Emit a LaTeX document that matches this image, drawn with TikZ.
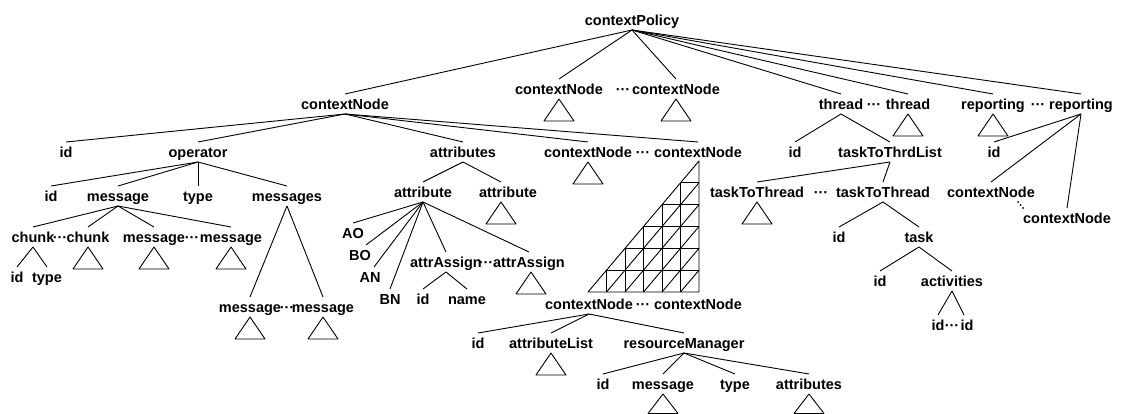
\documentclass[tikz,border=0pt]{standalone}
\usepackage{fontspec}
\setmainfont{Liberation Sans}
\usetikzlibrary{calc}

% lines from a parent to each of its children
\newcommand\kids[2]{\foreach \c in {#2} {\draw[edge] (#1.south) -- (\c.north);}}
% collapsed subtree drawn as a small triangle under a node
\newcommand\foldtri[2][0]{\draw[edge] ($(#2.south)+(#1,0)$) -- ++(-15,22) -- ++(30,0) -- cycle;}

\begin{document}
\begin{tikzpicture}[x=1pt,y=-1pt,
  lbl/.style={font=\fontsize{14.5}{17}\selectfont\bfseries, text height=10.4pt,
              text depth=0pt, inner xsep=1pt, inner ysep=4.6pt},
  edge/.style={line width=0.9pt, line join=round}]
\useasboundingbox (0,0) rectangle (1124,414);

% root and first level
\node[lbl] (cp)  at (632,20)  {contextPolicy};
\node[lbl] (cn1) at (345,104) {contextNode};
\node[lbl] (cn2) at (559,89)  {contextNode};
\node[lbl] (d1)  at (623,89)  {···};
\node[lbl] (cn3) at (676,89)  {contextNode};
\node[lbl] (th1) at (841,104) {thread};
\node[lbl] (d2)  at (874,104) {···};
\node[lbl] (th2) at (908,104) {thread};
\node[lbl] (rp1) at (993,104) {reporting};
\node[lbl] (d3)  at (1038,104) {···};
\node[lbl] (rp2) at (1081,104) {reporting};
\kids{cp}{cn1,cn2,cn3,th1,th2,rp1,rp2}
\foldtri{cn2}
\foldtri{cn3}
\foldtri{th2}
\foldtri{rp1}

% children of the first contextNode
\node[lbl] (id1) at (66,152)  {id};
\node[lbl] (op)  at (198,152) {operator};
\node[lbl] (at)  at (463,152) {attributes};
\node[lbl] (cn4) at (588,152) {contextNode};
\node[lbl] (d4)  at (643,152) {···};
\node[lbl] (cn5) at (698,152) {contextNode};
\kids{cn1}{id1,op,at,cn4,cn5}
\foldtri{cn4}

% operator subtree
\node[lbl] (id2)  at (51,196)  {id};
\node[lbl] (msg1) at (118,196) {message};
\node[lbl] (ty1)  at (198,196) {type};
\node[lbl] (msgs) at (287,196) {messages};
\kids{op}{id2,msg1,ty1,msgs}

\node[lbl] (ch1)  at (33,237)  {chunk};
\node[lbl] (d5)   at (60,237)  {···};
\node[lbl] (ch2)  at (88,237)  {chunk};
\node[lbl] (msg2) at (154,237) {message};
\node[lbl] (d6)   at (192,237) {···};
\node[lbl] (msg3) at (231,237) {message};
\kids{msg1}{ch1,ch2,msg2,msg3}
\foldtri{ch2}
\foldtri{msg2}
\foldtri{msg3}

\node[lbl] (id3) at (17,277) {id};
\node[lbl] (ty2) at (47,277) {type};
\kids{ch1}{id3,ty2}

\node[lbl] (msg4) at (250,307) {message};
\node[lbl] (d7)   at (287,307) {···};
\node[lbl] (msg5) at (323,307) {message};
\kids{msgs}{msg4,msg5}
\foldtri{msg4}
\foldtri{msg5}

% attributes subtree
\node[lbl] (atr1) at (423,192) {attribute};
\node[lbl] (atr2) at (508,192) {attribute};
\draw[edge] (at.south) -- (atr1.north);
\draw[edge] (at.south) -- ($(atr2.north)+(-7,0)$);
\foldtri[-7]{atr2}

\node[lbl] (AO)  at (353,233) {AO};
\node[lbl] (BO)  at (360,255) {BO};
\node[lbl] (AN)  at (370,277) {AN};
\node[lbl] (BN)  at (390,299) {BN};
\node[lbl] (aa1) at (446,262) {attrAssign};
\node[lbl] (d8)  at (486,262) {···};
\node[lbl] (aa2) at (529,262) {attrAssign};
\draw[edge] (atr1.south) -- (AO.north);
\draw[edge] (atr1.south) -- ($(BO.north)+(6,0)$);
\draw[edge] (atr1.south) -- ($(AN.north)+(4,0)$);
\draw[edge] (atr1.south) -- (BN.north);
\kids{atr1}{aa1,aa2}
\foldtri[2]{aa2}

\node[lbl] (id4) at (423,299) {id};
\node[lbl] (nm)  at (467,299) {name};
\kids{aa1}{id4,nm}

% chain of nested contextNodes shown as a meshed triangle
\coordinate (gT)  at (699,161);
\coordinate (gBR) at (699,292);
\coordinate (gBL) at (588,292);
\draw[edge] (gT) -- (gBR) -- (gBL) -- cycle;
\foreach \i in {1,...,5} {
  \draw[edge] ({588+18.5*\i},292) -- ({588+18.5*\i},{292-21.833*\i});
  \draw[edge] ({588+18.5*\i},{292-21.833*\i}) -- (699,{292-21.833*\i});
  \draw[edge] ({588+18.5*\i},292) -- (699,{292-21.833*(6-\i)});
}

\node[lbl] (cn8) at (589,304) {contextNode};
\node[lbl] (d11) at (643,304) {···};
\node[lbl] (cn9) at (698,304) {contextNode};

\node[lbl] (id11) at (478,343) {id};
\node[lbl] (al)   at (551,343) {attributeList};
\node[lbl] (rm)   at (684,343) {resourceManager};
\kids{cn8}{id11,al,rm}
\foldtri{al}

\node[lbl] (id12) at (603,384) {id};
\node[lbl] (msg6) at (663,384) {message};
\node[lbl] (ty3)  at (735,384) {type};
\node[lbl] (atr3) at (809,384) {attributes};
\kids{rm}{id12,msg6,ty3,atr3}
\draw[edge] (msg6.south) -- ++(-15,19.5) -- ++(30,0) -- cycle;
\draw[edge] (atr3.south) -- ++(-15,19.5) -- ++(30,0) -- cycle;

% thread subtree
\node[lbl] (id5) at (795,152) {id};
\node[lbl] (tl)  at (890,152) {taskToThrdList};
\kids{th1}{id5,tl}

\node[lbl] (tt1) at (757,192) {taskToThread};
\node[lbl] (d9)  at (821,192) {···};
\node[lbl] (tt2) at (883,192) {taskToThread};
\kids{tl}{tt1,tt2}
\foldtri{tt1}

\node[lbl] (id6) at (839,237) {id};
\node[lbl] (tk)  at (919,237) {task};
\kids{tt2}{id6,tk}

\node[lbl] (id7) at (880,281) {id};
\node[lbl] (ac)  at (952,281) {activities};
\kids{tk}{id7,ac}

\node[lbl] (id8)  at (938,325) {id};
\node[lbl] (d10)  at (952,325) {···};
\node[lbl] (id9)  at (967,325) {id};
\draw[edge] (ac.south) -- (id8.north);
\draw[edge] (ac.south) -- ($(id9.north)+(-3,0)$);

% reporting subtree
\node[lbl] (id10) at (994,152)  {id};
\node[lbl] (cn6)  at (991,192)  {contextNode};
\node[lbl] (cn7)  at (1067,218) {contextNode};
\kids{rp2}{id10,cn6,cn7}
% dotted link between the two contextNodes
\coordinate (dA) at ($(cn6.south)+(27,0)$);
\coordinate (dB) at ($(cn7.north)+(-44,0)$);
\foreach \t in {0,0.5,1} {\fill ($(dA)!\t!(dB)$) circle (1pt);}
\end{tikzpicture}
\end{document}
